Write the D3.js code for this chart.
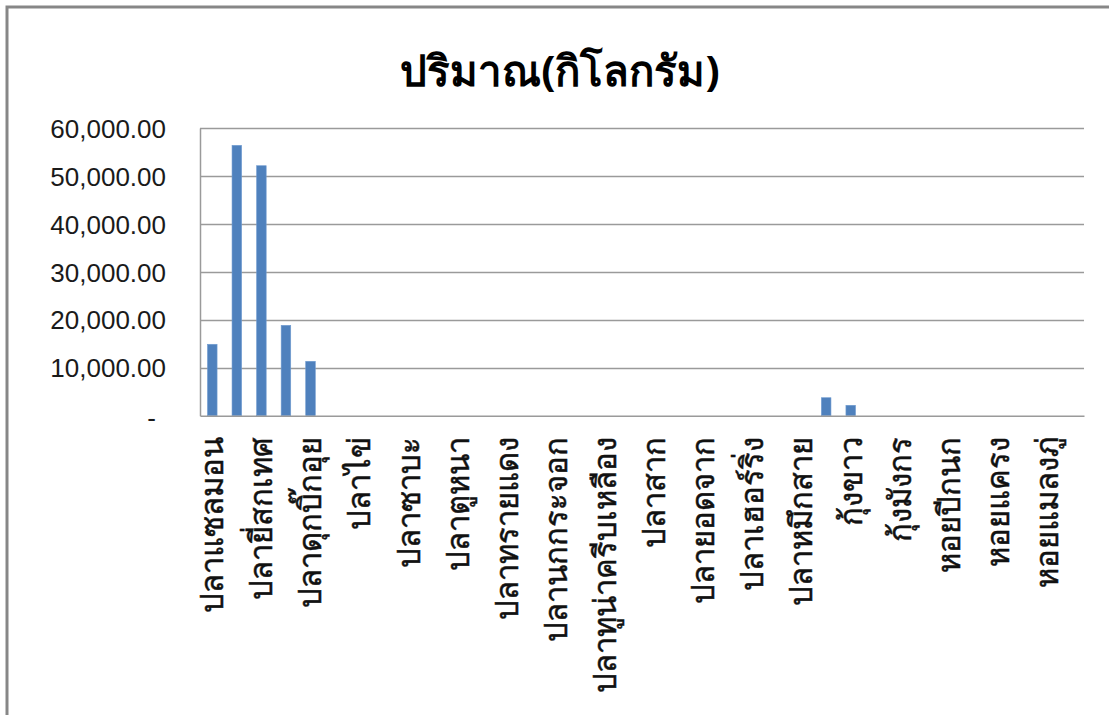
<!DOCTYPE html>
<html>
<head>
<meta charset="utf-8">
<script src="https://cdn.jsdelivr.net/npm/d3@7"></script>
<style>
  html, body { margin: 0; padding: 0; background: #fff; }
  svg { display: block; }
  .thai { font-family: "Noto Sans", "Open Sans", "DejaVu Sans", sans-serif; }
</style>
</head>
<body>
<svg id="chart" width="1109" height="715"></svg>
<script>
// ---- data ----
const title = "ปริมาณ(กิโลกรัม)";
// visible category labels (every other category is labelled on the axis)
const categoryLabels = [
  "ปลาแซลมอน", "ปลายี่สกเทศ", "ปลาดุกบิ๊กอุย", "ปลาไข่", "ปลาซาบะ",
  "ปลาตูหนา", "ปลาทรายแดง", "ปลานกกระจอก", "ปลาทูน่าครีบเหลือง", "ปลาสาก",
  "ปลายอดจาก", "ปลาเฮอร์ริ่ง", "ปลาหมึกสาย", "กุ้งขาว", "กุ้งมังกร",
  "หอยปีกนก", "หอยแครง", "หอยแมลงภู่"
];
// quantities for all 36 categories (kg)
const quantities = [
  14900, 56400, 52150, 18850, 11350, 0, 0, 0, 0, 0,
  0, 0, 0, 0, 0, 0, 0, 0, 0, 0,
  0, 0, 0, 0, 0, 3750, 2170, 0, 0, 0,
  0, 0, 0, 0, 0, 0
];
const yTicks = [0, 10000, 20000, 30000, 40000, 50000, 60000];

// ---- layout ----
const svg = d3.select("#chart");
const mLeft = 200, mRight = 1084, mTop = 128.1, mBottom = 415.7;

// outer frame
svg.append("path")
  .attr("d", "M7,715 L7,7 L1109,7")
  .attr("fill", "none").attr("stroke", "#878787").attr("stroke-width", 3);

const x = d3.scaleBand()
  .domain(d3.range(quantities.length))
  .range([mLeft, mRight])
  .paddingInner(0.61).paddingOuter(0.305);

const y = d3.scaleLinear().domain([0, 60000]).range([mBottom, mTop]);

// gridlines
svg.append("g").selectAll("line")
  .data(yTicks.filter(d => d > 0))
  .join("line")
  .attr("x1", mLeft).attr("x2", mRight)
  .attr("y1", d => Math.round(y(d)) + 0.5).attr("y2", d => Math.round(y(d)) + 0.5)
  .attr("stroke", "#9a9a9a").attr("stroke-width", 1.5);

// y axis
const fmt = d3.format(",.2f");
const yAxis = d3.axisLeft(y).tickValues(yTicks).tickSize(0).tickPadding(34)
  .tickFormat(d => d === 0 ? "-" : fmt(d));
const gy = svg.append("g").attr("transform", `translate(${mLeft},0)`).call(yAxis);
gy.select(".domain").attr("stroke", "#9a9a9a").attr("stroke-width", 1.5);
gy.selectAll("text")
  .attr("font-family", "'Liberation Sans', Arial, sans-serif")
  .attr("font-size", 26).attr("fill", "#1a1a1a")
  .attr("dy", "0.35em");
gy.selectAll(".tick").filter(d => d === 0).select("text")
  .attr("x", -44).attr("dy", "0.4em");

// bars
svg.append("g").selectAll("rect")
  .data(quantities.map((v, i) => ({ i, v })).filter(d => d.v > 0))
  .join("rect")
  .attr("x", d => x(d.i))
  .attr("width", x.bandwidth())
  .attr("y", d => y(d.v))
  .attr("height", d => y(0) - y(d.v))
  .attr("fill", "#4f81bd")
  .attr("stroke", "#6f9bd0").attr("stroke-width", 0.6);

// x axis
const xAxis = d3.axisBottom(x).tickSize(0).tickPadding(0)
  .tickFormat(i => i % 2 === 0 ? categoryLabels[i / 2] : "");
const gx = svg.append("g").attr("transform", `translate(0,${mBottom})`).call(xAxis);
gx.select(".domain").attr("stroke", "#9a9a9a").attr("stroke-width", 1.5);
gx.selectAll("text")
  .attr("class", "thai")
  .attr("font-size", 31).attr("fill", "#111")
  .attr("stroke", "#111").attr("stroke-width", 0.5)
  .attr("transform", "rotate(-90)")
  .attr("text-anchor", "end")
  .attr("x", -21).attr("y", 0).attr("dy", "0.35em");

// title
svg.append("text")
  .attr("class", "thai")
  .attr("x", 560).attr("y", 86)
  .attr("text-anchor", "middle")
  .attr("font-size", 42).attr("font-weight", "bold").attr("fill", "#000")
  .text(title);
</script>
</body>
</html>
